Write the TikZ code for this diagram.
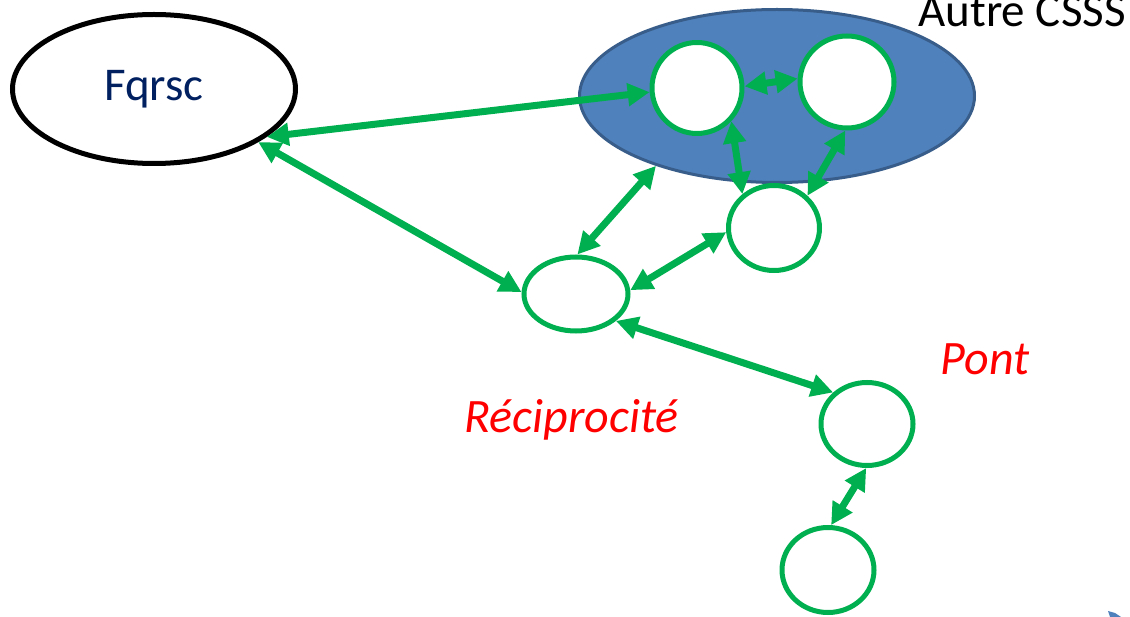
\documentclass[tikz,border=0pt]{standalone}
\usepackage{fontspec}
\setmainfont{Carlito}
\usetikzlibrary{shapes.geometric,arrows.meta}
\definecolor{vert}{HTML}{00B050}
\definecolor{bleu}{HTML}{4F81BD}
\definecolor{bleufonce}{HTML}{385D8A}
\definecolor{marine}{HTML}{002060}
\tikzset{
	rond/.style={ellipse,draw=vert,line width=5pt,fill=white,inner sep=0pt},
	lien/.style={draw=vert,line width=7pt,{Triangle[length=22pt,width=22pt]}-{Triangle[length=22pt,width=22pt]}},
	grand/.style={font=\fontsize{47}{56}\selectfont},
	mot/.style={font=\fontsize{48}{57}\selectfont\itshape,text=red,anchor=base west}
}
\begin{document}
\begin{tikzpicture}[x=1pt,y=-1pt]
				\useasboundingbox (0,0) rectangle (1130,617);
				\clip (0,0) rectangle (1130,617);
				\node[ellipse,draw=bleufonce,fill=bleu,line width=3pt,minimum width=395pt,minimum height=173pt] (csss) at (777,96) {};
				\node[grand,anchor=base west] (autre) at (915,27) {Autre CSSS};
				\node[ellipse,draw,line width=5pt,minimum width=283pt,minimum height=149pt,text=marine,grand] (fq) at (154,89) {Fqrsc};
				\foreach \n/\x/\y/\w/\h in {a/697/88/90/91,b/847/82/94/92,c/774/228/91/85,d/576/294/104/74,e/867/424/92/83,f/828/570/92/85}
					{\node[rond,minimum width=\w pt,minimum height=\h pt] (\n) at (\x,\y) {};}
				\foreach \p/\q in {fq.-23/a.185,fq.-27/d.178,a.2/b.176,a.-44/c.133,b.-92/c.44,d.88/csss.210,d.4/c.185,d.-34/e.137,e.-91/f.86}
					{\draw[lien] (\p) -- (\q);}
				\node[mot] (pont) at (937,375) {Pont};
				\node[mot] (recip) at (461,432) {Réciprocité};
				\fill[bleu] (1108,611) -- (1115,613) -- (1121,617) -- (1110,617) -- cycle;
\end{tikzpicture}
\end{document}
